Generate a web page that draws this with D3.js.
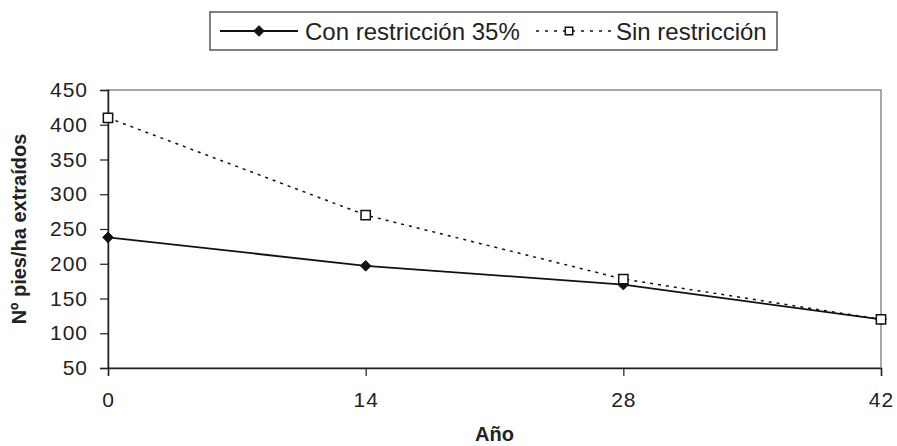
<!DOCTYPE html>
<html>
<head>
<meta charset="utf-8">
<script src="https://cdn.jsdelivr.net/npm/d3@7"></script>
<style>
  body { margin: 0; background: #fff; }
  text { font-family: "Liberation Sans", Arial, sans-serif; fill: #222; }
</style>
</head>
<body>
<div id="chart"></div>
<script>
var width = 897,
    height = 446;

var years = [0, 14, 28, 42];
var conRestriccion = [238, 197, 170, 120];
var sinRestriccion = [410, 270, 178, 120];
var yTicks = [50, 100, 150, 200, 250, 300, 350, 400, 450];

var margin = {top: 90, left: 108, right: 16, bottom: 78};

var svg = d3.select("#chart")
    .append("svg")
    .attr("width", width)
    .attr("height", height)

var x = d3.scaleLinear().domain([0, 42]).range([margin.left, width - margin.right])
var y = d3.scaleLinear().domain([50, 450]).range([height - margin.bottom, margin.top])

// plot area border (grey on top/right)
svg.append("rect")
    .attr("x", x(0))
    .attr("y", y(450))
    .attr("width", x(42) - x(0))
    .attr("height", y(50) - y(450))
    .attr("fill", "none")
    .attr("stroke", "#8c8c8c")
    .attr("stroke-width", 1.5)

var yAxis = svg.append("g")
    .attr("transform", "translate(" + x(0) + ",0)")
    .call(d3.axisLeft(y).tickValues(yTicks).tickSize(8).tickPadding(12))
yAxis.select(".domain").attr("stroke", "#222").attr("stroke-width", 1.5)
yAxis.selectAll(".tick line").attr("stroke", "#222").attr("stroke-width", 1.2)
yAxis.selectAll("text")
    .attr("font-size", 21)
    .attr("letter-spacing", 1)
    .attr("font-family", "Liberation Sans, Arial, sans-serif")
    .attr("fill", "#222")

var xAxis = svg.append("g")
    .attr("transform", "translate(0," + y(50) + ")")
    .call(d3.axisBottom(x).tickValues(years).tickSize(8).tickPadding(16))
xAxis.select(".domain").attr("stroke", "#222").attr("stroke-width", 1.5)
xAxis.selectAll(".tick line").attr("stroke", "#222").attr("stroke-width", 1.2)
xAxis.selectAll("text")
    .attr("font-size", 21)
    .attr("letter-spacing", 1)
    .attr("font-family", "Liberation Sans, Arial, sans-serif")
    .attr("fill", "#222")

// axis titles
svg.append("text")
    .attr("x", (x(0) + x(42)) / 2)
    .attr("y", 441)
    .attr("text-anchor", "middle")
    .attr("font-size", 20)
    .attr("font-weight", "bold")
    .text("Año")

svg.append("text")
    .attr("transform", "translate(26," + (y(50) + y(450)) / 2 + ") rotate(-90)")
    .attr("text-anchor", "middle")
    .attr("font-size", 20)
    .attr("font-weight", "bold")
    .text("Nº pies/ha extraídos")

var line = d3.line()
    .x(function(d, i) { return x(years[i]) })
    .y(function(d) { return y(d) })

svg.append("path")
    .datum(sinRestriccion)
    .attr("d", line)
    .attr("fill", "none")
    .attr("stroke", "#111")
    .attr("stroke-width", 1.5)
    .attr("stroke-dasharray", "3,5")

svg.append("path")
    .datum(conRestriccion)
    .attr("d", line)
    .attr("fill", "none")
    .attr("stroke", "#111")
    .attr("stroke-width", 1.8)

var diamond = d3.symbol().type(d3.symbolDiamond2).size(72)
var square = d3.symbol().type(d3.symbolSquare2).size(110)

svg.selectAll(".con")
    .data(conRestriccion)
    .enter().append("path")
    .attr("class", "con")
    .attr("d", diamond)
    .attr("transform", function(d, i) { return "translate(" + x(years[i]) + "," + y(d) + ")" })
    .attr("fill", "#111")
    .attr("stroke", "#111")

svg.selectAll(".sin")
    .data(sinRestriccion)
    .enter().append("path")
    .attr("class", "sin")
    .attr("d", square)
    .attr("transform", function(d, i) { return "translate(" + x(years[i]) + "," + y(d) + ")" })
    .attr("fill", "#fff")
    .attr("stroke", "#111")
    .attr("stroke-width", 1.5)

// legend
var legend = svg.append("g")
legend.append("rect")
    .attr("x", 210).attr("y", 12)
    .attr("width", 567).attr("height", 38)
    .attr("fill", "#fff")
    .attr("stroke", "#555")
    .attr("stroke-width", 1.5)

legend.append("line")
    .attr("x1", 220).attr("x2", 298).attr("y1", 31).attr("y2", 31)
    .attr("stroke", "#111").attr("stroke-width", 1.8)
legend.append("path")
    .attr("d", diamond)
    .attr("transform", "translate(259,31)")
    .attr("fill", "#111").attr("stroke", "#111")
legend.append("text")
    .attr("x", 305).attr("y", 40)
    .attr("font-size", 24)
    .text("Con restricción 35%")

legend.append("line")
    .attr("x1", 536).attr("x2", 612).attr("y1", 31).attr("y2", 31)
    .attr("stroke", "#111").attr("stroke-width", 1.5)
    .attr("stroke-dasharray", "3,6")
legend.append("path")
    .attr("d", d3.symbol().type(d3.symbolSquare2).size(70))
    .attr("transform", "translate(569,31)")
    .attr("fill", "#fff").attr("stroke", "#111").attr("stroke-width", 1.5)
legend.append("text")
    .attr("x", 616).attr("y", 40)
    .attr("font-size", 24)
    .text("Sin restricción")
</script>
</body>
</html>
